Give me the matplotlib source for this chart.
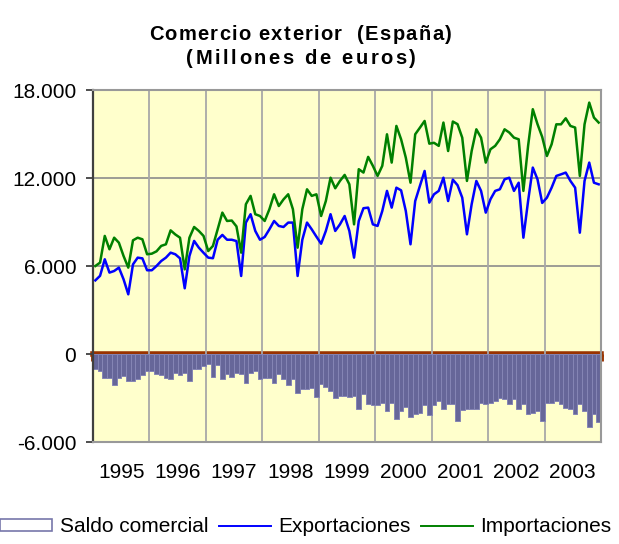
import matplotlib
matplotlib.use("Agg")
import matplotlib.pyplot as plt
from matplotlib.patches import Patch
from matplotlib.lines import Line2D
from matplotlib.ticker import FuncFormatter, FixedLocator
import numpy as np

years = [1995, 1996, 1997, 1998, 1999, 2000, 2001, 2002, 2003]

exportaciones = [
    [5020, 5330, 6460, 5550, 5660, 5890, 5090, 4070, 6110, 6570, 6520, 5710],
    [5710, 6000, 6340, 6570, 6910, 6800, 6520, 4480, 6680, 7710, 7250, 6900],
    [6570, 6530, 7790, 8120, 7790, 7790, 7700, 5320, 8960, 9530, 8390, 7790],
    [7980, 8500, 9070, 8730, 8660, 8960, 8960, 5320, 7790, 8960, 8500, 8000],
    [7520, 8390, 9530, 8390, 8840, 9410, 8390, 6570, 9070, 9940, 9980, 8840],
    [8730, 9750, 11120, 9980, 11340, 11160, 9750, 7480, 10430, 11460, 12480, 10320],
    [10890, 11120, 12020, 10430, 11890, 11510, 10660, 8160, 10210, 11800, 11120, 9640],
    [10550, 11120, 11230, 11910, 12020, 11120, 11680, 7930, 10430, 12710, 11910, 10300],
    [10660, 11340, 12140, 12250, 12370, 11800, 11340, 8270, 11800, 13050, 11680, 11570],
]

importaciones = [
    [6000, 6230, 8050, 7140, 7930, 7590, 6680, 5890, 7750, 7930, 7820, 6800],
    [6840, 7000, 7370, 7480, 8430, 8150, 7930, 5770, 7930, 8660, 8390, 8050],
    [7020, 7370, 8500, 9640, 9070, 9100, 8700, 6910, 10210, 10780, 9530, 9410],
    [9070, 9870, 10890, 10090, 10540, 10890, 9870, 7250, 9870, 11230, 10780, 10890],
    [9410, 10430, 12020, 11300, 11800, 12210, 11570, 8840, 12600, 12370, 13440, 12830],
    [12140, 12830, 14980, 13050, 15550, 14640, 13390, 11680, 14980, 15430, 15890, 14340],
    [14400, 14190, 15780, 13840, 15850, 15670, 14750, 11800, 13840, 15320, 14750, 13050],
    [13960, 14190, 14640, 15320, 15100, 14750, 14640, 11120, 14190, 16690, 15670, 14800],
    [13500, 14300, 15660, 15660, 16070, 15550, 15440, 12140, 15660, 17140, 16120, 15780],
]

saldo_comercial = [
    [-1050, -1160, -1610, -1610, -2110, -1610, -1500, -1840, -1840, -1730, -1450, -1160],
    [-1160, -1390, -1450, -1610, -1730, -1270, -1430, -1270, -1840, -1050, -1000, -820],
    [-700, -1550, -770, -1730, -1390, -1550, -1270, -1390, -1950, -1270, -1160, -1680],
    [-1610, -1610, -1950, -1390, -1730, -2110, -1730, -2640, -2360, -2360, -2300, -2910],
    [-2070, -2230, -2520, -2980, -2860, -2860, -2910, -2860, -3730, -2750, -3430, -3500],
    [-3500, -3320, -3890, -3320, -4410, -3890, -3610, -4270, -4110, -4000, -3500, -4160],
    [-3500, -3200, -3730, -3430, -3430, -4570, -3820, -3770, -3770, -3730, -3360, -3430],
    [-3320, -3200, -2980, -3090, -3430, -3090, -3730, -3430, -4110, -4000, -3890, -4570],
    [-3320, -3360, -3200, -3430, -3660, -3730, -4110, -3430, -3890, -4960, -4110, -4640],
]

y_ticks = [-6000, 0, 6000, 12000, 18000]
title_lines = ["Comercio exterior  (España)", "(Millones de euros)"]
legend_labels = ["Saldo comercial", "Exportaciones", "Importaciones"]

plt.rcParams['font.family'] = ['Liberation Sans', 'DejaVu Sans']

exp = np.array(exportaciones, dtype=float).ravel()
imp = np.array(importaciones, dtype=float).ravel()
sal = np.array(saldo_comercial, dtype=float).ravel()
n = len(exp)
x = years[0] + (np.arange(n) + 0.5) / 12.0

W, H = 619, 544
fig = plt.figure(figsize=(W/100, H/100), dpi=100)
ax = fig.add_axes([93/W, 1 - 442/H, (601-93)/W, (442-90)/H])
ax.set_facecolor('#FFFFCC')

ax.bar(x, sal, width=1/12, color='#666699', edgecolor='#8585b5', linewidth=0.7, zorder=2)
ax.plot(x, exp, color='#0000FF', lw=1.8, zorder=4)
ax.plot(x, imp, color='#008000', lw=1.8, zorder=4)

ax.set_xlim(years[0], years[-1] + 1)
ax.set_ylim(y_ticks[0], y_ticks[-1])

# grid
for yv in y_ticks[1:-1]:
    if yv != 0:
        ax.axhline(yv, color='#8c8c8c', lw=1.2, zorder=1)
for yr in years[1:]:
    ax.axvline(yr, color='#a8a8a8', lw=1.3, zorder=1)

# zero axis with tick marks
sec = ax.secondary_xaxis((0 - y_ticks[0]) / (y_ticks[-1] - y_ticks[0]))
sec.spines['bottom'].set_color('#993300')
sec.spines['bottom'].set_linewidth(4)
sec.spines['bottom'].set_zorder(5)
sec.set_xticks(years + [years[-1] + 1])
sec.tick_params(axis='x', direction='out', length=5, width=3.5, color='#993300', labelbottom=False)

ax.set_yticks(y_ticks)
ax.yaxis.set_major_formatter(FuncFormatter(lambda v, p: f"{int(v):,}".replace(',', '.')))
ax.tick_params(axis='y', direction='out', length=5, width=1.3, color='#404040', labelsize=15, pad=7)
ax.xaxis.set_major_locator(FixedLocator([yr + 0.5 for yr in years]))
ax.set_xticklabels([str(yr) for yr in years])
ax.tick_params(axis='x', length=0, labelsize=15, pad=15)

ax.spines['left'].set_color('#404040')
ax.spines['left'].set_linewidth(1.6)
for s in ['top', 'right', 'bottom']:
    ax.spines[s].set_color('#999999')
    ax.spines[s].set_linewidth(1.5)

# letter-spaced bold title
renderer = fig.canvas.get_renderer()
tkw = dict(fontsize=14.5, fontweight='bold')


def text_width(s):
    t = fig.text(0, 0, s, **tkw)
    w = t.get_window_extent(renderer).width
    t.remove()
    return w


def spaced_title(s, xc_px, yc_px, spacing_px):
    bar_w = text_width("|")
    lefts = [text_width(s[:k] + "|") - bar_w if k > 0 else 0.0 for k in range(len(s))]
    total = text_width(s) + (len(s) - 1) * spacing_px
    x0 = xc_px - total / 2
    for k, ch in enumerate(s):
        if ch == ' ':
            continue
        fig.text((x0 + lefts[k] + k * spacing_px) / W, 1 - yc_px / H, ch,
                 ha='left', va='center', **tkw)


spaced_title(title_lines[0], 300, 35, 1.3)
spaced_title(title_lines[1], 301, 58, 2.6)

handles = [Patch(facecolor='white', edgecolor='#7777aa', linewidth=1.2),
           Line2D([0], [0], color='#0000FF', lw=1.4),
           Line2D([0], [0], color='#008000', lw=1.4)]
fig.legend(handles, legend_labels, loc='center', bbox_to_anchor=(0.494, 1 - 527/H),
           ncol=3, frameon=False, fontsize=15, handlelength=2.5, handleheight=0.5,
           handletextpad=0.35, columnspacing=0.5, borderaxespad=0, borderpad=0)

fig.savefig('out.png', dpi=100)
